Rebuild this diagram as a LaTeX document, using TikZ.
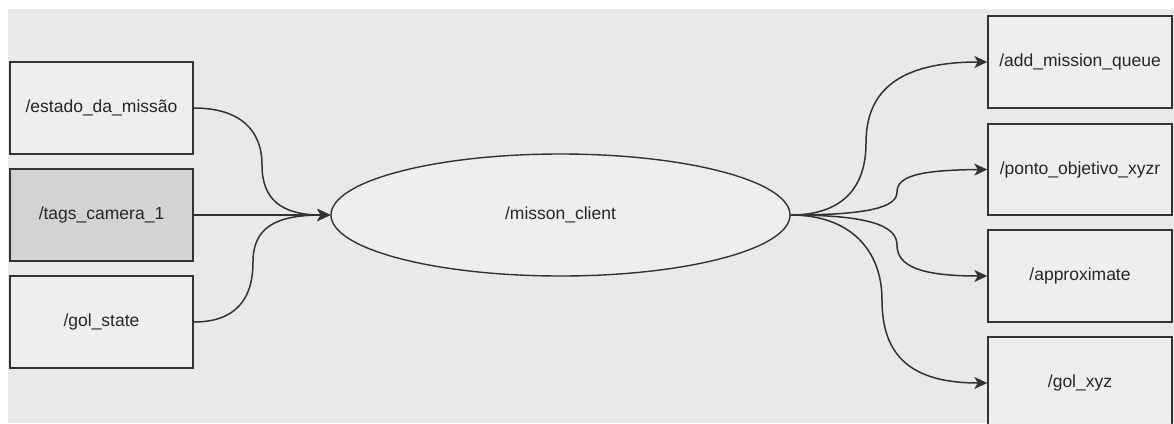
\documentclass[tikz,border=0pt]{standalone}
\usepackage{fontspec}
\setmainfont{Liberation Sans}
\usetikzlibrary{shapes.geometric,arrows.meta}
\definecolor{bgc}{HTML}{E9E9E9}
\definecolor{boxc}{HTML}{EEEEEE}
\definecolor{selc}{HTML}{D3D3D3}
\definecolor{linec}{HTML}{333333}
\tikzset{
  topic/.style={draw=linec, line width=1.4pt, fill=boxc, minimum width=183pt, minimum height=92pt, inner sep=0pt, font=\fontsize{17.5}{20}\selectfont, text=black!85},
  nodeell/.style={ellipse, draw=linec, line width=1.4pt, fill=boxc, minimum width=459pt, minimum height=122pt, inner sep=0pt, font=\fontsize{17.5}{20}\selectfont, text=black!85},
  conn/.style={draw=linec, line width=1.5pt, -{Stealth[length=13pt,width=12pt,inset=3.5pt]}}
}
\begin{document}
\begin{tikzpicture}[x=1pt,y=-1pt]
\useasboundingbox (0,0) rectangle (1174,423);
\clip (0,0) rectangle (1174,423);
\fill[white] (0,0) rectangle (1174,423);
\fill[bgc] (8,9) rectangle (1174,423);
\node[topic] (e1) at (101.5,108) {/estado\_da\_missão};
\node[topic, fill=selc] (e2) at (101.5,215) {/tags\_camera\_1};
\node[topic] (e3) at (101.5,322) {/gol\_state};
\node[nodeell] (mc) at (560.5,215) {/misson\_client};
\node[topic, minimum width=184pt] (ra) at (1080,62) {/add\_mission\_queue};
\node[topic, minimum width=184pt, minimum height=91pt] (rb) at (1080,169.5) {/ponto\_objetivo\_xyzr};
\node[topic, minimum width=184pt] (rc) at (1080,276) {/approximate};
\node[topic, minimum width=184pt] (rd) at (1080,383) {/gol\_xyz};
\coordinate (b1) at (262,165);
\coordinate (b3) at (253,262);
\coordinate (ba) at (866,143);
\coordinate (bb) at (897,192);
\coordinate (bc) at (897,245);
\coordinate (bd) at (882,300);
\draw[conn] (e1.east) .. controls (240,108) and (262,130) .. (b1) .. controls (262,200) and (282,215) .. (mc.west);
\draw[conn] (e2.east) -- (mc.west);
\draw[conn] (e3.east) .. controls (235,322) and (253,300) .. (b3) .. controls (253,228) and (275,215) .. (mc.west);
\draw[conn] (mc.east) .. controls (840,215) and (866,190) .. (ba) .. controls (866,90) and (900,62) .. (ra.west);
\draw[conn] (mc.east) .. controls (870,215) and (897,207) .. (bb) .. controls (897,176) and (920,170) .. (rb.west);
\draw[conn] (mc.east) .. controls (870,215) and (897,226) .. (bc) .. controls (897,266) and (920,276) .. (rc.west);
\draw[conn] (mc.east) .. controls (850,215) and (882,250) .. (bd) .. controls (882,355) and (910,383) .. (rd.west);
\end{tikzpicture}
\end{document}
